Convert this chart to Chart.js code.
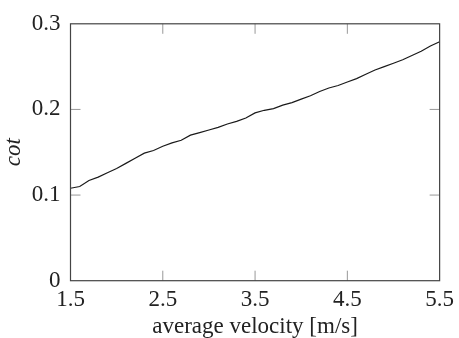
<!DOCTYPE html>
<html>
<head>
<meta charset="utf-8">
<script src="https://cdn.jsdelivr.net/npm/chart.js@4/dist/chart.umd.min.js"></script>
<style>
	html, body { margin: 0; padding: 0; background: #fff; }
	#wrap { width: 459px; height: 338px; }
</style>
</head>
<body>
<div id="wrap"><canvas id="myChart" width="459" height="338"></canvas></div>
<script>
	"use strict";

	// values
	const velocity = [
		1.5, 1.6, 1.7, 1.8, 1.9, 2.0, 2.1, 2.2, 2.3, 2.4, 2.5, 2.6, 2.7, 2.8,
		2.9, 3.0, 3.1, 3.2, 3.3, 3.4, 3.5, 3.6, 3.7, 3.8, 3.9, 4.0, 4.1, 4.2,
		4.3, 4.4, 4.5, 4.6, 4.7, 4.8, 4.9, 5.0, 5.1, 5.2, 5.3, 5.4, 5.5,
	];
	const cot = [
		0.108, 0.110, 0.117, 0.121, 0.126, 0.131, 0.137, 0.143, 0.149, 0.152,
		0.157, 0.161, 0.164, 0.170, 0.173, 0.176, 0.179, 0.183, 0.186, 0.190,
		0.196, 0.199, 0.201, 0.205, 0.208, 0.212, 0.216, 0.221, 0.225, 0.228,
		0.232, 0.236, 0.241, 0.246, 0.250, 0.254, 0.258, 0.263, 0.268, 0.274,
		0.279,
	];
	const xTicks = [1.5, 2.5, 3.5, 4.5, 5.5];
	const yTicks = [0, 0.1, 0.2, 0.3];

	const serif = "'Liberation Serif', 'DejaVu Serif', serif";
	const tickLen = 10;

	// pgfplots style box with inward ticks on all four sides
	const frameTicks = {
		id: "frameTicks",
		afterDatasetsDraw(chart) {
			const { ctx, chartArea, scales } = chart;
			const { left, right, top, bottom } = chartArea;
			ctx.save();
			ctx.strokeStyle = "#999";
			ctx.lineWidth = 1;
			ctx.beginPath();
			scales.x.ticks.forEach((t) => {
				const px = scales.x.getPixelForValue(t.value);
				if (px <= left + 1 || px >= right - 1) return;
				ctx.moveTo(px, bottom);
				ctx.lineTo(px, bottom - tickLen);
				ctx.moveTo(px, top);
				ctx.lineTo(px, top + tickLen);
			});
			scales.y.ticks.forEach((t) => {
				const py = scales.y.getPixelForValue(t.value);
				if (py <= top + 1 || py >= bottom - 1) return;
				ctx.moveTo(left, py);
				ctx.lineTo(left + tickLen, py);
				ctx.moveTo(right, py);
				ctx.lineTo(right - tickLen, py);
			});
			ctx.stroke();
			ctx.strokeStyle = "#444";
			ctx.lineWidth = 1.2;
			ctx.strokeRect(left, top, right - left, bottom - top);
			ctx.restore();
		},
	};

	const ctx = document.getElementById("myChart");
	// eslint-disable-next-line no-unused-vars
	const myChart = new Chart(ctx, {
		type: "line",
		data: {
			datasets: [
				{
					data: velocity.map((v, i) => ({ x: v, y: cot[i] })),
					borderColor: "#1a1a1a",
					borderWidth: 1.2,
					pointRadius: 0,
					tension: 0,
					fill: false,
				},
			],
		},
		plugins: [frameTicks],
		options: {
			responsive: false,
			animation: false,
			layout: {
				padding: { top: 19, right: 17.5, bottom: 0, left: 0 },
			},
			plugins: {
				legend: { display: false },
				tooltip: { enabled: false },
			},
			scales: {
				x: {
					type: "linear",
					min: 1.5,
					max: 5.5,
					afterBuildTicks: (scale) => {
						scale.ticks = xTicks.map((v) => ({ value: v }));
					},
					afterFit: (scale) => {
						scale.height = 57.3;
					},
					grid: { display: false, drawTicks: false },
					border: { display: false },
					ticks: {
						padding: 5,
						color: "#222",
						maxRotation: 0,
						font: { family: serif, size: 23, lineHeight: 1.2 },
						callback: (v) => v.toFixed(1),
					},
					title: {
						display: true,
						text: "average velocity [m/s]",
						color: "#222",
						padding: { top: 0, bottom: 0 },
						font: { family: serif, size: 23, lineHeight: 1 },
					},
				},
				y: {
					min: 0,
					max: 0.3,
					afterBuildTicks: (scale) => {
						scale.ticks = yTicks.map((v) => ({ value: v }));
					},
					afterFit: (scale) => {
						scale.width = 70.5;
					},
					grid: { display: false, drawTicks: false },
					border: { display: false },
					ticks: {
						padding: 10,
						color: "#222",
						font: { family: serif, size: 23, lineHeight: 1.2 },
						callback: (v) => (v === 0 ? "0" : v.toFixed(1)),
					},
					title: {
						display: true,
						text: "cot",
						color: "#222",
						padding: { top: 2, bottom: 0 },
						font: { family: serif, size: 23, style: "italic", lineHeight: 1 },
					},
				},
			},
		},
	});
</script>
</body>
</html>
